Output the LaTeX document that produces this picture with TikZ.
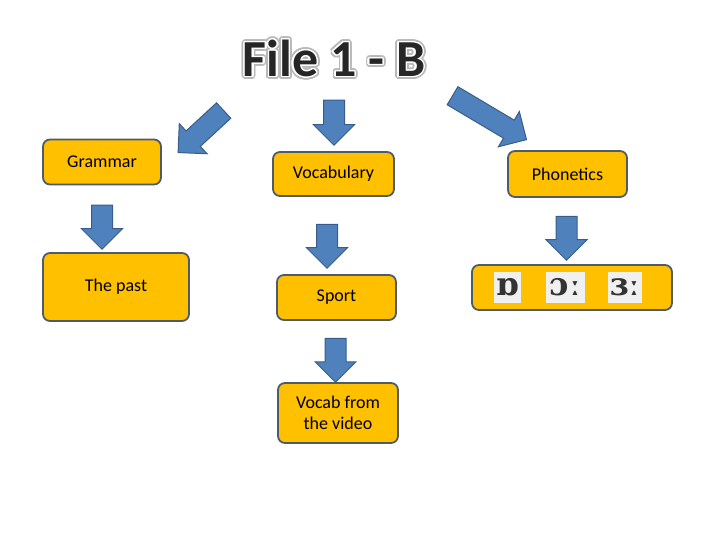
\documentclass[tikz,border=0pt]{standalone}
\usepackage{fontspec}
\setmainfont{Carlito}
\newfontfamily\ipafont{DejaVu Serif}
\usepackage[copies]{contour}
\contournumber{24}
\usetikzlibrary{shapes.arrows, positioning}
\definecolor{boxfill}{HTML}{FFC000}
\definecolor{boxline}{HTML}{4E5B68}
\definecolor{arrowfill}{HTML}{4F81BD}
\definecolor{arrowline}{HTML}{385D8A}

\begin{document}
\begin{tikzpicture}[x=1pt, y=-1pt,
    topic/.style={draw=boxline, fill=boxfill, line width=1.8pt, rounded corners=7pt, inner sep=0pt, align=center, font=\fontsize{18}{21.5}\selectfont},
    bigarrow/.style={single arrow, draw=arrowline, fill=arrowfill, line width=1pt, inner xsep=0pt, inner ysep=10pt, single arrow head extend=10pt, minimum height=#1},
    bigarrow/.default=44pt,
    sound/.style={fill=gray!12, inner sep=0pt, minimum height=31pt, text=black!80, font=\ipafont\bfseries\fontsize{32}{32}\selectfont}]
    \useasboundingbox (0,0) rectangle (720,540);

    % title
    \node[text=black!85, font=\fontsize{52}{52}\selectfont\bfseries] (title) at (334,60)
        {\rlap{\contourlength{3.2pt}\contour{gray!55}{File 1 - B}}\contourlength{1.4pt}\contour{white}{File 1 - B}};

    % the three topics
    \node[topic, minimum width=118pt, minimum height=45pt] (grammar) at (102,162) {Grammar};
    \node[topic, minimum width=121pt, minimum height=44pt] (vocab) at (333.5,174) {Vocabulary};
    \node[topic, minimum width=119pt, minimum height=46pt] (phon) at (567.5,174) {Phonetics};

    \node[bigarrow=62pt, rotate=-137.3] (toGrammar) at (204.75,128) {};
    \node[bigarrow=45pt, rotate=-90] (toVocab) at (334,117.5) {};
    \node[bigarrow=86pt, rotate=-30.7] (toPhon) at (485,115) {};

    % what comes under each
    \node[topic, minimum width=146pt, minimum height=68pt] (past) at (116,287) {The past};
    \node[topic, minimum width=119pt, minimum height=45pt] (sport) at (336.5,297.5) {Sport};
    \node[topic, minimum width=120pt, minimum height=60pt] (video) at (338,413) {Vocab from\\the video};
    \node[topic, minimum width=200pt, minimum height=45pt] (sounds) at (572,287.5) {};

    \node[bigarrow, rotate=-90] (grammarDown) at (102,222) {};
    \node[bigarrow, rotate=-90] (vocabDown) at (327,241) {};
    \node[bigarrow, rotate=-90] (sportDown) at (335.5,355) {};
    \node[bigarrow, rotate=-90] (phonDown) at (566.5,233) {};

    % the vowel sounds
    \node[sound, minimum width=27pt] (soundA) at (507.5,287.5) {ɒ};
    \node[sound, minimum width=39pt] (soundB) at (565.5,287.5) {ɔː};
    \node[sound, minimum width=34pt] (soundC) at (625,287.5) {ɜː};
\end{tikzpicture}
\end{document}
